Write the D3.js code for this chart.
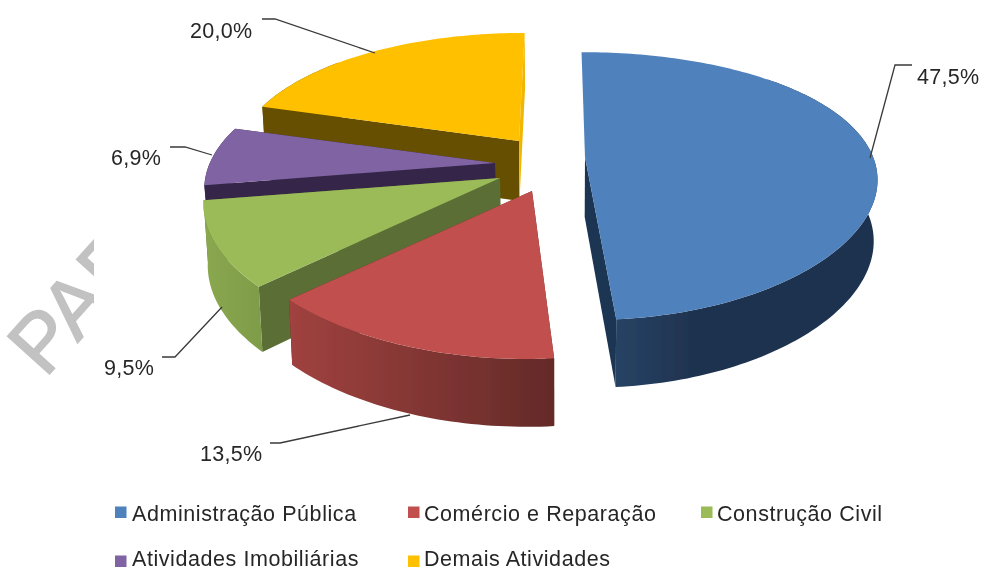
<!DOCTYPE html>
<html><head><meta charset="utf-8">
<script src="https://cdn.jsdelivr.net/npm/d3@7"></script>
<style>html,body{margin:0;padding:0;background:#fff}svg{display:block}</style>
</head><body><svg id="c" width="981" height="570"></svg>
<script>
const categories=["Administração Pública","Comércio e Reparação","Construção Civil","Atividades Imobiliárias","Demais Atividades"];
const values=[47.5,13.5,9.5,6.9,20.0];
const valueLabels=["47,5%","13,5%","9,5%","6,9%","20,0%"];
const colors=["#4f81bd","#c0504d","#9bbb59","#8064a2","#ffc000"];
const startFace=[null,"#642a28","#5a6e35","#35264a","#665000"];
const endFace=["#1f3552","#642a28","#5a6e35","#35264a","#f2b600"];
const wallStops=[["#2a4a6e","#1f3350"],["#a0423f","#642a28"],["#8aa84f","#7f9c49"],["#35264a","#35264a"],["#665000","#665000"]];
// layout: apex of each exploded slice, in pixels
const apexX=[585,532,500,495,519], apexY=[157,191,178,163,141];
const yScale=[0.97,1,1,1,1], rScale=[0.99,1.025,1,0.98,0.965], depthScale=[1,1,1,0.8,1];
const drawOrder=[4,3,2,1,0];
const R=291,TILT=0.452,PERSP=0.217,PERSPX=0.16,VPX=560,DEPTH=60,SHRINK=0.012;
const leaders=[[[870,158],[895,65],[912,65]],[[410,415],[280,443],[270,443]],[[222,307],[175,357],[162,357]],[[212,155],[185,147],[170,147]],[[375,53],[275,19],[262,19]]];
const labelPos=[[917,76],[200,453],[104,367],[111,157],[190,30]];
const legendPos=[[115,132,513,506.5],[408,424,513,506.5],[701,717,513,506.5],[115,132,558.5,555.5],[408,424,558.5,555.5]];

const svg=d3.select("#c");
const defs=svg.append("defs");
defs.append("filter").attr("id","soft").attr("x","-5%").attr("y","-5%").attr("width","110%").attr("height","110%")
  .append("feGaussianBlur").attr("stdDeviation",0.55);
defs.append("clipPath").attr("id","wm").append("rect").attr("x",0).attr("y",0).attr("width",94).attr("height",570);
const root=svg.append("g").attr("filter","url(#soft)");

root.append("g").attr("clip-path","url(#wm)").append("text")
  .attr("transform","translate(45,379) rotate(-48)")
  .attr("font-family","Liberation Sans").attr("font-size",82).attr("fill","#c2c2c2")
  .attr("stroke","#c2c2c2").attr("stroke-width",1.5).text("PARCIAL");

const arcs=d3.pie().sort(null).value(d=>d)(values);
function project(i,a,r,h){
  const u=r*rScale[i]*R*Math.sin(a), v=-r*Math.cos(a);
  const k=1/(1-PERSP*v), kx=1/(1-PERSPX*v);
  let x=VPX+(apexX[i]+u-VPX)*kx;
  let y=apexY[i]+v*R*TILT*k*yScale[i];
  if(h){x+=(VPX-x)*SHRINK; y+=DEPTH*depthScale[i]*Math.sqrt(k);}
  return [x,y];
}
const line=d3.line();
function rim(i,a0,a1,h){
  const n=Math.max(1,Math.ceil((a1-a0)/0.02));
  return d3.range(n+1).map(j=>project(i,a0+(a1-a0)*j/n,1,h));
}
const pies=root.append("g");
drawOrder.forEach(i=>{
  const d=arcs[i], g=pies.append("g");
  const top=rim(i,d.startAngle,d.endAngle,false);
  const bot=rim(i,d.startAngle,d.endAngle,true);
  const ax=project(i,0,0,false), axb=project(i,0,0,true);
  const gid="w"+i;
  const xs=top.map(p=>p[0]);
  const gr=defs.append("linearGradient").attr("id",gid).attr("gradientUnits","userSpaceOnUse")
    .attr("x1",d3.min(xs)).attr("x2",i===0?d3.min(xs)+110:d3.max(xs)).attr("y1",0).attr("y2",0);
  gr.append("stop").attr("offset",0).attr("stop-color",wallStops[i][0]);
  gr.append("stop").attr("offset",1).attr("stop-color",wallStops[i][1]);
  [[startFace[i],top[0],bot[0]],[endFace[i],top[top.length-1],bot[bot.length-1]]].forEach(([c,t,b])=>{
    if(c) g.append("path").attr("d",line([ax,t,b,axb])+"Z").attr("fill",c);
  });
  // the outer wall is only seen on the near part of the rim
  const near=(p,j)=>Math.cos(d.startAngle+(d.endAngle-d.startAngle)*j/(top.length-1))<0.7;
  const wt=top.filter(near), wb=bot.filter(near);
  if(wt.length) g.append("path").attr("d",line(wt.concat(wb.slice().reverse()))+"Z").attr("fill","url(#"+gid+")");
  g.append("path").attr("d",line([ax].concat(top))+"Z").attr("fill",colors[i]);
});

const lg=root.append("g");
leaders.forEach(p=>lg.append("path").attr("d",line(p)).attr("fill","none").attr("stroke","#3a3a3a").attr("stroke-width",1.3));
valueLabels.forEach((t,i)=>root.append("text").attr("x",labelPos[i][0]).attr("y",labelPos[i][1]).attr("dy","0.35em")
  .attr("font-family","Liberation Sans").attr("font-size",21.5).attr("letter-spacing",0.3).attr("fill","#262626").text(t));
categories.forEach((t,i)=>{
  const [sx,tx,cy,sy]=legendPos[i];
  root.append("rect").attr("x",sx).attr("y",sy).attr("width",11.5).attr("height",11.5).attr("fill",colors[i]);
  root.append("text").attr("x",tx).attr("y",cy).attr("dy","0.35em").attr("font-family","Liberation Sans")
    .attr("font-size",21.5).attr("letter-spacing",0.57).attr("fill","#262626").text(t);
});
</script></body></html>
